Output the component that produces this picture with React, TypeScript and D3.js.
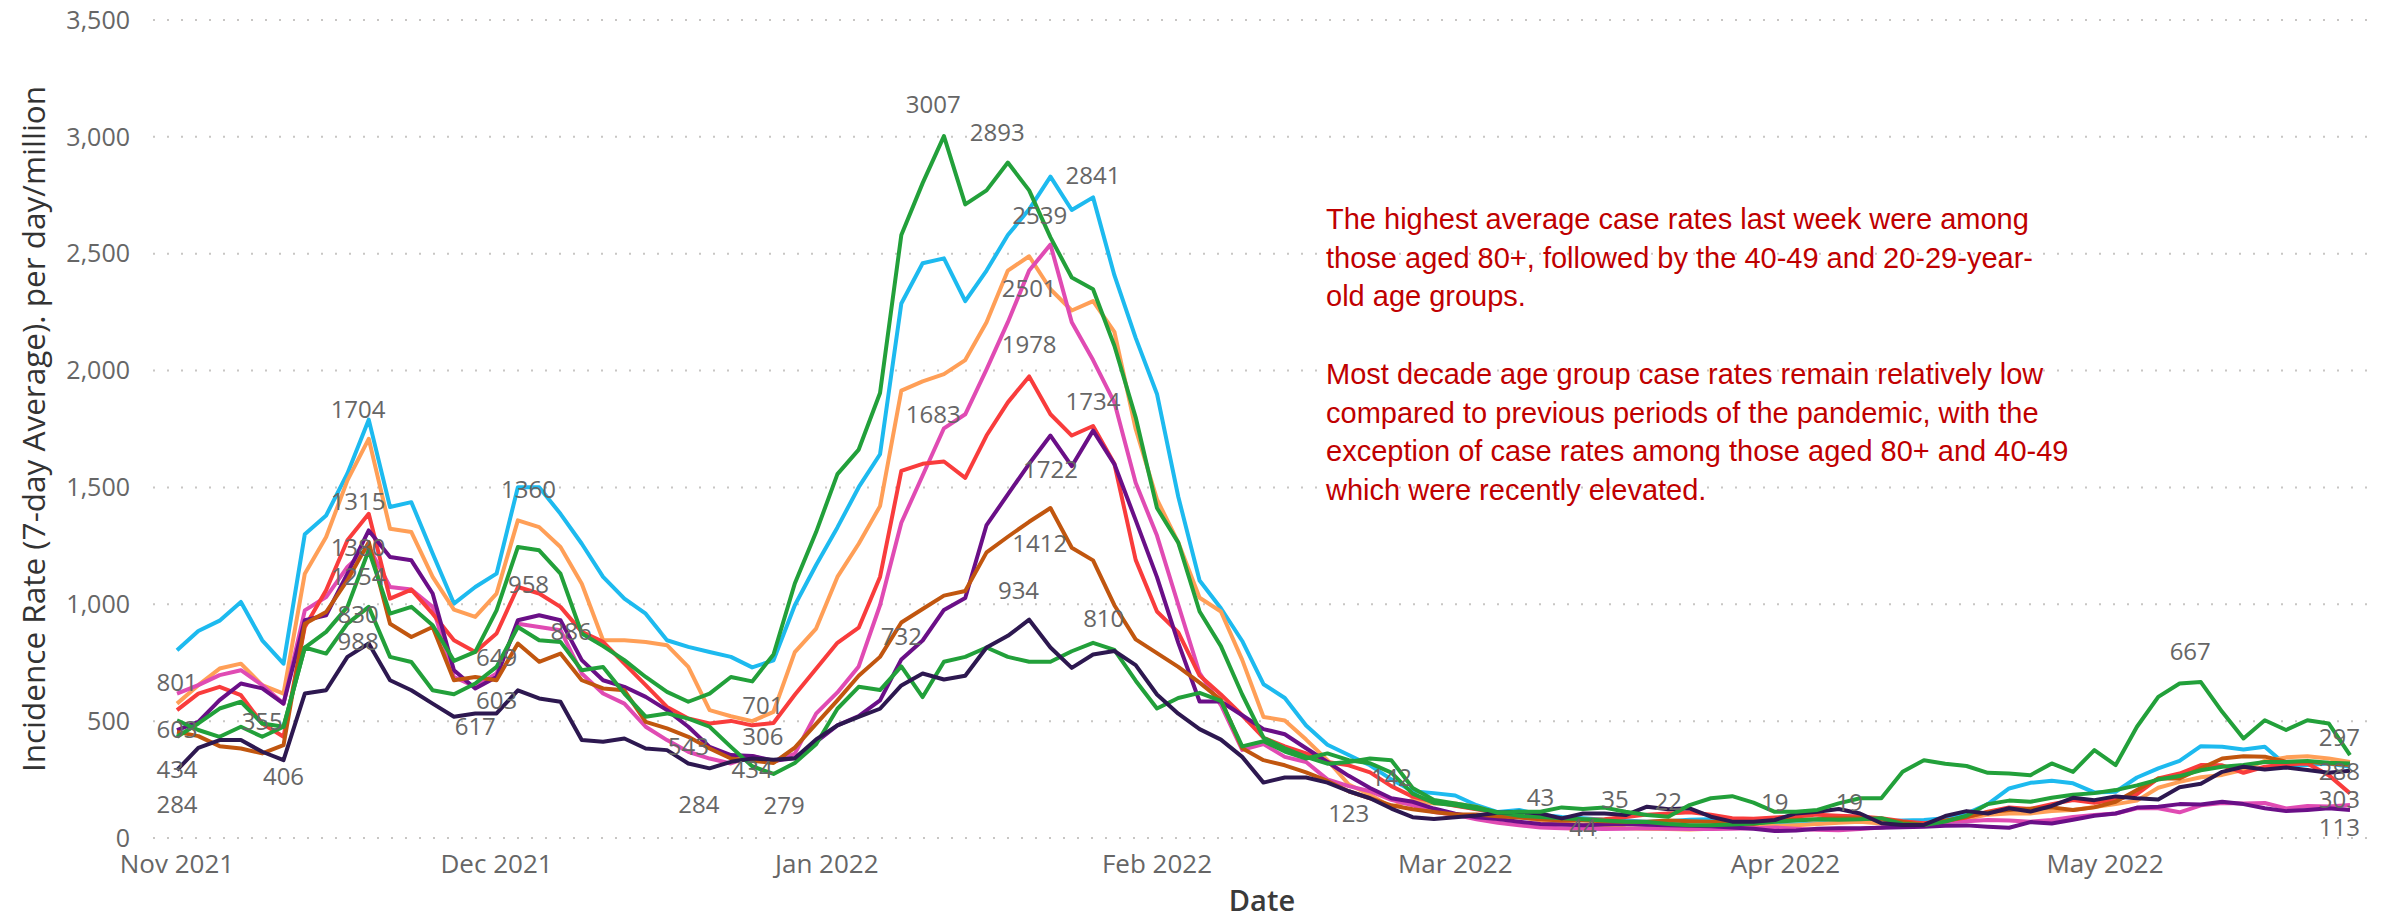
import React, { useEffect, useRef } from "react";
import * as d3 from "d3";

// readings every second day, 1 Nov 2021 .. 24 May 2022
const firstDay = new Date(Date.UTC(2021, 10, 1));
const lastDay = new Date(Date.UTC(2022, 4, 24));
const dates = d3.utcDay.range(firstDay, d3.utcDay.offset(lastDay, 1), 2);

// incidence rate (7-day average) per day/million, one list per age group line
const cyanRates = [
  803, 886, 930, 1010, 846, 746, 1300, 1380, 1560, 1790, 1416, 1437,
  1217, 1003, 1074, 1131, 1501, 1501, 1387, 1259, 1117, 1024, 960, 846,
  818, 796, 775, 730, 760, 996, 1168, 1329, 1501, 1642, 2287, 2459,
  2480, 2297, 2428, 2580, 2690, 2830, 2687, 2741, 2408, 2140, 1900, 1460,
  1102, 983, 843, 658, 599, 481, 399, 355, 311, 251, 200, 192,
  182, 140, 111, 120, 100, 90, 85, 78, 75, 70, 72, 78,
  80, 72, 65, 60, 58, 62, 68, 70, 72, 75, 77, 84,
  105, 145, 212, 236, 245, 234, 195, 198, 259, 298, 330, 393,
  390, 379, 390, 312, 312, 319, 305
];
const orangeRates = [
  575, 654, 725, 746, 654, 618, 1131, 1288, 1530, 1708, 1323, 1309,
  1117, 977, 946, 1046, 1359, 1330, 1245, 1088, 846, 846, 839, 825,
  732, 547, 521, 500, 540, 795, 896, 1117, 1259, 1420, 1914, 1954,
  1985, 2045, 2207, 2428, 2489, 2348, 2257, 2297, 2166, 1750, 1449, 1264,
  1028, 969, 762, 518, 503, 421, 333, 229, 185, 133, 163, 148,
  148, 133, 104, 90, 75, 62, 55, 48, 42, 40, 38, 36,
  40, 44, 48, 52, 55, 60, 65, 70, 62, 62, 63, 72,
  82, 100, 105, 105, 115, 120, 133, 145, 160, 215, 240, 260,
  270, 292, 330, 345, 350, 340, 325
];
const greenRates = [
  433, 490, 554, 583, 490, 476, 815, 882, 989, 1231, 960, 989,
  910, 758, 796, 974, 1245, 1231, 1131, 875, 821, 761, 689, 625,
  583, 618, 689, 670, 785, 1089, 1309, 1557, 1662, 1904, 2580, 2802,
  3003, 2711, 2771, 2890, 2771, 2570, 2398, 2348, 2106, 1800, 1412, 1264,
  969, 821, 614, 429, 384, 347, 318, 325, 340, 333, 214, 163,
  148, 133, 108, 112, 112, 131, 124, 130, 112, 98, 91, 141,
  170, 179, 151, 112, 112, 120, 148, 170, 170, 283, 333, 318,
  308, 279, 276, 269, 319, 283, 376, 312, 476, 604, 661, 667,
  540, 426, 504, 462, 504, 490, 355
];
const green2Rates = [
  504, 462, 433, 476, 433, 476, 815, 789, 917, 989, 775, 753,
  632, 615, 661, 732, 903, 846, 839, 718, 732, 618, 519, 533,
  511, 476, 390, 307, 274, 321, 401, 553, 647, 633, 734, 603,
  754, 775, 815, 775, 754, 754, 799, 835, 805, 673, 554, 599,
  621, 587, 392, 414, 370, 340, 362, 333, 320, 280, 190, 150,
  140, 125, 110, 95, 90, 85, 80, 75, 70, 68, 60, 55,
  55, 58, 62, 70, 75, 80, 78, 80, 85, 60, 56, 70,
  95, 145, 160, 155, 172, 185, 192, 205, 225, 250, 265, 290,
  305, 312, 325, 325, 330, 322, 319
];
const pinkRates = [
  618, 654, 697, 718, 654, 575, 974, 1031, 1160, 1245, 1074, 1063,
  989, 689, 647, 704, 917, 903, 889, 704, 618, 575, 476, 419,
  369, 340, 319, 351, 325, 361, 532, 623, 734, 996, 1349, 1551,
  1753, 1813, 2005, 2207, 2428, 2539, 2207, 2045, 1864, 1520, 1294, 998,
  705, 569, 377, 402, 347, 325, 251, 222, 200, 163, 140, 111,
  99, 80, 65, 55, 45, 42, 40, 38, 40, 42, 40, 38,
  38, 40, 42, 45, 40, 35, 33, 38, 45, 55, 63, 68,
  72, 77, 75, 70, 77, 90, 98, 105, 127, 127, 110, 140,
  150, 148, 150, 126, 137, 135, 141
];
const redRates = [
  547, 618, 647, 611, 490, 433, 903, 1060, 1274, 1387, 1024, 1063,
  960, 846, 796, 875, 1074, 1046, 989, 882, 839, 746, 654, 561,
  511, 490, 501, 482, 492, 613, 724, 835, 900, 1117, 1571, 1601,
  1611, 1541, 1722, 1864, 1975, 1813, 1722, 1763, 1601, 1190, 969, 880,
  695, 614, 525, 429, 392, 362, 325, 311, 281, 222, 177, 155,
  138, 123, 108, 90, 82, 80, 78, 80, 90, 100, 105, 110,
  100, 85, 82, 88, 92, 100, 95, 92, 85, 72, 63, 74,
  88, 113, 131, 124, 145, 162, 151, 165, 188, 255, 276, 312,
  311, 279, 305, 316, 319, 269, 191
];
const purpleRates = [
  462, 497, 590, 661, 640, 575, 932, 953, 1131, 1316, 1202, 1188,
  1046, 718, 640, 689, 932, 953, 932, 761, 675, 647, 604, 547,
  476, 390, 355, 351, 331, 341, 411, 482, 522, 589, 764, 845,
  976, 1027, 1339, 1470, 1601, 1722, 1591, 1743, 1600, 1360, 1116, 835,
  584, 584, 525, 466, 444, 384, 325, 266, 214, 170, 155, 126,
  104, 89, 81, 70, 60, 58, 55, 58, 60, 57, 55, 52,
  50, 45, 40, 30, 32, 40, 42, 42, 44, 46, 48, 52,
  54, 48, 44, 68, 62, 78, 95, 105, 130, 134, 145, 143,
  155, 145, 127, 115, 120, 127, 120
];
const brownRates = [
  454, 436, 393, 383, 362, 397, 917, 967, 1103, 1266, 917, 860,
  903, 675, 689, 675, 832, 754, 789, 675, 640, 632, 497, 469,
  433, 383, 340, 331, 321, 387, 488, 589, 694, 775, 922, 980,
  1037, 1057, 1222, 1289, 1353, 1412, 1242, 1188, 996, 850, 791, 732,
  665, 591, 384, 333, 311, 281, 244, 200, 170, 140, 123, 111,
  101, 101, 93, 88, 80, 75, 75, 72, 70, 70, 75, 72,
  70, 65, 60, 75, 78, 80, 85, 85, 80, 68, 56, 74,
  91, 110, 120, 125, 131, 120, 131, 155, 205, 255, 255, 298,
  340, 350, 348, 326, 326, 319, 312
];
const navyRates = [
  290, 386, 419, 419, 369, 333, 618, 632, 775, 832, 675, 632,
  575, 519, 533, 533, 632, 597, 583, 419, 412, 426, 383, 376,
  319, 298, 326, 340, 335, 341, 422, 482, 518, 553, 653, 704,
  678, 694, 815, 865, 934, 815, 728, 785, 800, 740, 614, 532,
  466, 421, 347, 237, 259, 259, 237, 200, 170, 126, 89, 81,
  89, 96, 108, 112, 105, 84, 105, 105, 98, 134, 123, 127,
  91, 70, 70, 77, 105, 112, 124, 105, 63, 56, 56, 94,
  115, 105, 127, 113, 137, 172, 162, 178, 170, 165, 217, 232,
  283, 305, 293, 302, 291, 279, 288
];

// drawing order, back to front
const series = [
  { name: "cyan", color: "#1DBAEF", values: cyanRates },
  { name: "orange", color: "#FF9F57", values: orangeRates },
  { name: "pink", color: "#E04BB3", values: pinkRates },
  { name: "red", color: "#F93C3C", values: redRates },
  { name: "purple", color: "#6A0F87", values: purpleRates },
  { name: "brown", color: "#C1560F", values: brownRates },
  { name: "green2", color: "#22A03A", values: green2Rates },
  { name: "navy", color: "#2D1850", values: navyRates },
  { name: "green", color: "#22A03A", values: greenRates }
];

const yTicks = [0, 500, 1000, 1500, 2000, 2500, 3000, 3500];

// data labels as shown: [date, value where the label sits, text]
const pointLabels: [string, number, string][] = [
  ["2021-11-01", 663, "801"],
  ["2021-11-01", 462, "603"],
  ["2021-11-01", 291, "434"],
  ["2021-11-01", 141, "284"],
  ["2021-11-09", 496, "355"],
  ["2021-11-11", 261, "406"],
  ["2021-11-18", 1831, "1704"],
  ["2021-11-18", 1438, "1315"],
  ["2021-11-18", 1241, "1380"],
  ["2021-11-18", 1117, "1254"],
  ["2021-11-18", 954, "830"],
  ["2021-11-18", 839, "988"],
  ["2021-12-04", 1489, "1360"],
  ["2021-12-04", 1083, "958"],
  ["2021-12-08", 881, "886"],
  ["2021-12-01", 774, "649"],
  ["2021-12-01", 590, "603"],
  ["2021-11-29", 475, "617"],
  ["2021-12-19", 389, "543"],
  ["2021-12-20", 141, "284"],
  ["2021-12-26", 565, "701"],
  ["2021-12-26", 432, "306"],
  ["2021-12-25", 291, "434"],
  ["2021-12-28", 139, "279"],
  ["2022-01-11", 3136, "3007"],
  ["2022-01-17", 3017, "2893"],
  ["2022-01-26", 2835, "2841"],
  ["2022-01-21", 2663, "2539"],
  ["2022-01-20", 2349, "2501"],
  ["2022-01-20", 2110, "1978"],
  ["2022-01-11", 1810, "1683"],
  ["2022-01-26", 1866, "1734"],
  ["2022-01-22", 1575, "1722"],
  ["2022-01-21", 1260, "1412"],
  ["2022-01-19", 1057, "934"],
  ["2022-01-27", 937, "810"],
  ["2022-01-08", 860, "732"],
  ["2022-02-19", 103, "123"],
  ["2022-02-23", 259, "142"],
  ["2022-03-09", 171, "43"],
  ["2022-03-13", 43, "44"],
  ["2022-03-16", 163, "35"],
  ["2022-03-21", 154, "22"],
  ["2022-03-31", 150, "19"],
  ["2022-04-07", 150, "19"],
  ["2022-05-09", 796, "667"],
  ["2022-05-23", 428, "297"],
  ["2022-05-23", 282, "288"],
  ["2022-05-23", 163, "303"],
  ["2022-05-23", 43, "113"]
];

const noteLines = [
  "The highest average case rates last week were among",
  "those aged 80+, followed by the 40-49 and 20-29-year-",
  "old age groups.",
  "",
  "Most decade age group case rates remain relatively low",
  "compared to previous periods of the pandemic, with the",
  "exception of case rates among those aged 80+ and 40-49",
  "which were recently elevated."
];

const UI_FONT = "'Segoe UI', 'Open Sans', sans-serif";

export default function App() {
  const ref = useRef<SVGSVGElement | null>(null);

  useEffect(() => {
    const svg = d3.select(ref.current);
    svg.selectAll("*").remove();

    const x = d3.scaleUtc().domain([firstDay, lastDay]).range([177, 2350]);
    const y = d3.scaleLinear().domain([0, 3500]).range([838, 20]);

    // dotted gridlines
    svg.append("g")
      .selectAll("line")
      .data(yTicks)
      .join("line")
      .attr("x1", 153)
      .attr("x2", 2372)
      .attr("y1", d => y(d))
      .attr("y2", d => y(d))
      .attr("stroke", "#c8c6c4")
      .attr("stroke-width", 2)
      .attr("stroke-dasharray", "2 12");

    // y tick labels
    svg.append("g")
      .selectAll("text")
      .data(yTicks)
      .join("text")
      .attr("x", 130)
      .attr("y", d => y(d))
      .attr("dy", "0.35em")
      .attr("text-anchor", "end")
      .style("font", `25px ${UI_FONT}`)
      .attr("fill", "#666")
      .text(d => d3.format(",")(d));

    // month labels
    svg.append("g")
      .selectAll("text")
      .data(x.ticks(d3.utcMonth.every(1)!))
      .join("text")
      .attr("x", d => x(d))
      .attr("y", 873)
      .attr("text-anchor", "middle")
      .style("font", `26px ${UI_FONT}`)
      .attr("fill", "#666")
      .text(d => d3.utcFormat("%b %Y")(d));

    // axis titles
    svg.append("text")
      .attr("transform", "translate(45,429) rotate(-90)")
      .attr("text-anchor", "middle")
      .style("font", `31.5px ${UI_FONT}`)
      .attr("fill", "#333")
      .text("Incidence Rate (7-day Average). per day/million");

    svg.append("text")
      .attr("x", 1262)
      .attr("y", 911)
      .attr("text-anchor", "middle")
      .style("font", `600 29px ${UI_FONT}`)
      .attr("fill", "#3a3a3a")
      .text("Date");

    // the age group lines
    const line = d3.line<number>()
      .x((_, i) => x(dates[i]))
      .y(d => y(d));

    svg.append("g")
      .attr("fill", "none")
      .attr("stroke-width", 4)
      .attr("stroke-linejoin", "round")
      .selectAll("path")
      .data(series)
      .join("path")
      .attr("stroke", d => d.color)
      .attr("d", d => line(d.values));

    // data labels
    svg.append("g")
      .selectAll("text")
      .data(pointLabels)
      .join("text")
      .attr("x", d => x(new Date(d[0] + "T00:00:00Z")))
      .attr("y", d => y(d[1]))
      .attr("dy", "0.35em")
      .attr("text-anchor", "middle")
      .style("font", `24px ${UI_FONT}`)
      .attr("fill", "#666")
      .text(d => d[2]);

    // commentary
    svg.append("g")
      .selectAll("text")
      .data(noteLines)
      .join("text")
      .attr("x", 1326)
      .attr("y", (_, i) => 229 + i * 38.7)
      .style("font", "29px 'Liberation Sans', Arial, sans-serif")
      .attr("fill", "#C00000")
      .text(d => d);

    return () => {
      svg.selectAll("*").remove();
    };
  }, []);

  return (
    <svg
      ref={ref}
      width={2387}
      height={921}
      style={{ position: "absolute", left: 0, top: 0, background: "#ffffff" }}
    />
  );
}
